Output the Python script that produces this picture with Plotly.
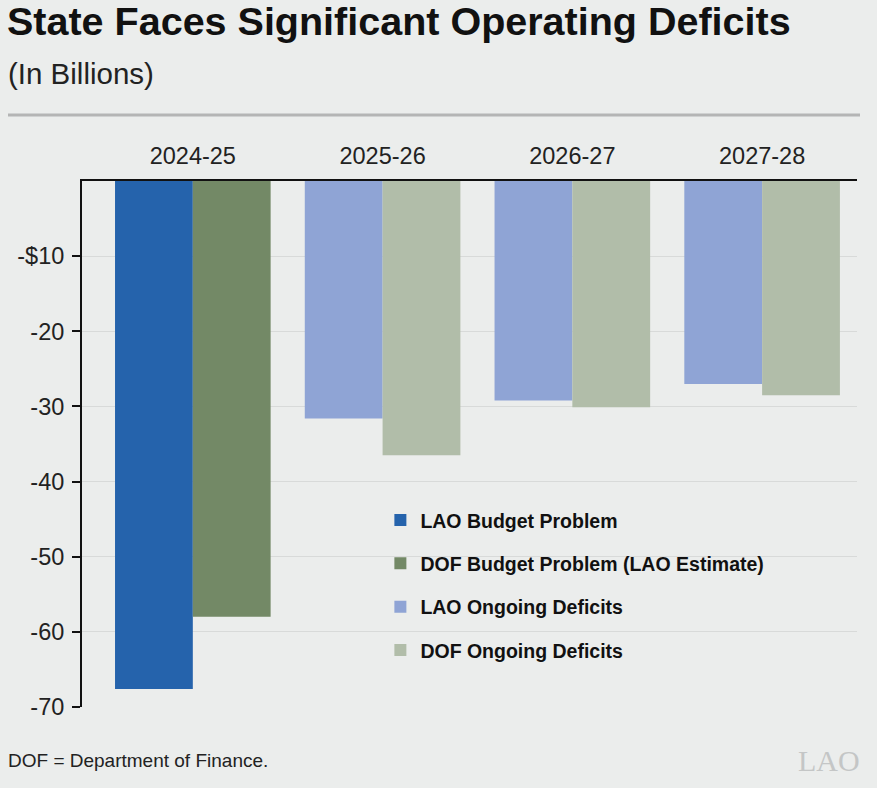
import plotly.graph_objects as go

categories = ["2024-25", "2025-26", "2026-27", "2027-28"]

lao_budget_cat = ["2024-25"]
lao_budget_val = [-67.6]
dof_budget_cat = ["2024-25"]
dof_budget_val = [-58.0]
lao_ongoing_cat = ["2025-26", "2026-27", "2027-28"]
lao_ongoing_val = [-31.6, -29.2, -27.0]
dof_ongoing_cat = ["2025-26", "2026-27", "2027-28"]
dof_ongoing_val = [-36.5, -30.1, -28.5]

ytick_vals = [-10, -20, -30, -40, -50, -60, -70]
ytick_text = ["-$10", "-20", "-30", "-40", "-50", "-60", "-70"]

BG = "#ebedec"
FONT = "Liberation Sans"

fig = go.Figure()
series = [
    ("LAO Budget Problem", lao_budget_cat, lao_budget_val, "#2563ac", "a"),
    ("DOF Budget Problem (LAO Estimate)", dof_budget_cat, dof_budget_val, "#738966", "b"),
    ("LAO Ongoing Deficits", lao_ongoing_cat, lao_ongoing_val, "#8fa4d5", "a"),
    ("DOF Ongoing Deficits", dof_ongoing_cat, dof_ongoing_val, "#b1bda9", "b"),
]
for i, (name, cats, vals, color, og) in enumerate(series):
    fig.add_trace(go.Bar(
        name=name, x=cats, y=vals, marker=dict(color=color, line=dict(width=0)),
        offsetgroup=og, legendgroup=f"g{i}", hoverinfo="skip",
    ))

fig.update_layout(
    width=877, height=788,
    paper_bgcolor=BG, plot_bgcolor=BG,
    margin=dict(l=82, r=20, t=181, b=81),
    barmode="group", bargap=0.18, bargroupgap=0,
    font=dict(family=FONT, color="#222"),
    title=dict(
        text="State Faces Significant Operating Deficits",
        font=dict(family=FONT, size=39.5, color="#111", weight="bold"),
        x=7 / 877, xref="container", xanchor="left",
        y=1 - 21 / 788, yref="container", yanchor="middle",
    ),
    showlegend=True,
    legend=dict(
        x=0.385, y=0.392, xanchor="left", yanchor="top",
        bgcolor="rgba(0,0,0,0)",
        font=dict(family=FONT, size=19.5, color="#111", weight="bold"),
        traceorder="grouped", tracegroupgap=15,
    ),
    xaxis=dict(
        type="category", categoryorder="array", categoryarray=categories,
        side="top", range=[-0.584, 3.5],
        showline=True, linecolor="#111", linewidth=2,
        showgrid=False, ticks="", zeroline=False,
        ticklabelstandoff=6,
        tickfont=dict(family=FONT, size=23.5, color="#222"),
        fixedrange=True,
    ),
    yaxis=dict(
        range=[-70, 0], tickvals=ytick_vals, ticktext=ytick_text,
        showline=True, linecolor="#111", linewidth=2,
        ticks="outside", ticklen=8, tickwidth=2, tickcolor="#111",
        showgrid=True, gridcolor="#d8dad9", gridwidth=1,
        zeroline=False, ticklabelstandoff=3,
        tickfont=dict(family=FONT, size=23.5, color="#222"),
        fixedrange=True,
    ),
    annotations=[
        dict(text="(In Billions)", xref="paper", yref="paper",
             x=(6 - 82) / 775, y=(707 - 73) / 526, xanchor="left", yanchor="middle",
             showarrow=False, font=dict(family=FONT, size=29.5, color="#222")),
        dict(text="DOF = Department of Finance.", xref="paper", yref="paper",
             x=(6 - 82) / 775, y=(707 - 760) / 526, xanchor="left", yanchor="middle",
             showarrow=False, font=dict(family=FONT, size=19, color="#222")),
        dict(text="LAO", xref="paper", yref="paper",
             x=(796 - 82) / 775, y=(707 - 760) / 526, xanchor="left", yanchor="middle",
             showarrow=False, font=dict(family="Liberation Serif", size=30, color="#c4c6c6")),
    ],
    shapes=[
        dict(type="line", xref="paper", yref="paper",
             x0=(8 - 82) / 775, x1=(860 - 82) / 775,
             y0=(707 - 115) / 526, y1=(707 - 115) / 526,
             line=dict(color="#b4b5b5", width=3)),
    ],
)

fig.write_html("out.html")
